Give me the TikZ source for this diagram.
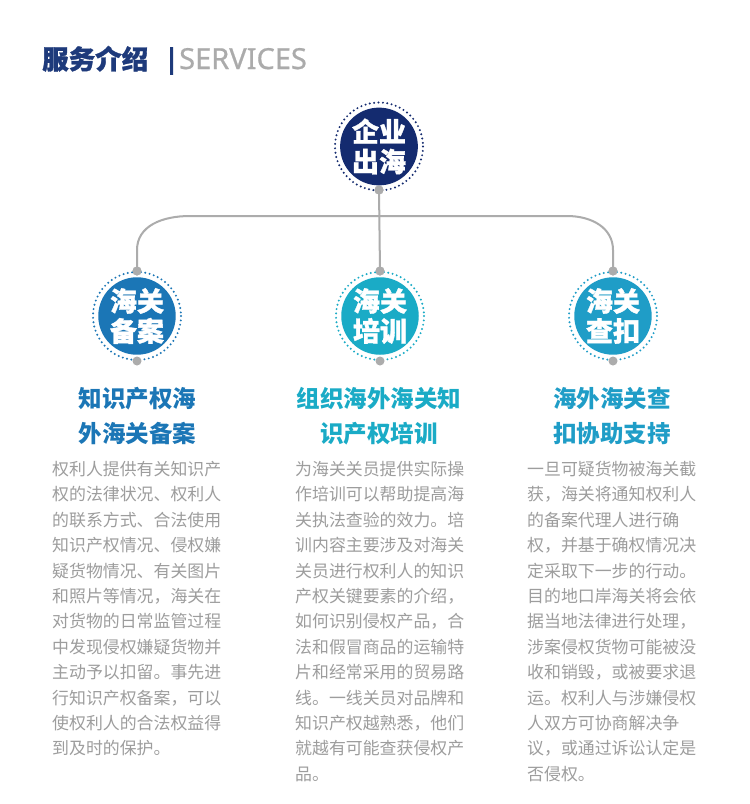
\documentclass[tikz,border=0pt]{standalone}
\usepackage{fontspec}
\newfontfamily\cjk{Noto Sans CJK SC}
\newfontfamily\cjkheavy[BoldFeatures={FakeBold=1.2}]{Noto Sans CJK SC}
\newfontfamily\latinsans[FakeBold=0.6]{Noto Sans}
\newfontfamily\barfont[FakeBold=3]{Noto Sans}
\definecolor{navy}{HTML}{142B6F}
\definecolor{titlenavy}{HTML}{1E3A7B}
\definecolor{cA}{HTML}{1B76B6}
\definecolor{cB}{HTML}{1AABC6}
\definecolor{cC}{HTML}{1F9DC7}
\definecolor{bodygray}{HTML}{9D9D9D}
\definecolor{servgray}{HTML}{ABABAB}
\definecolor{linegray}{HTML}{ACACAC}
\tikzset{
  bigcirc/.style={circle, minimum size=75pt, inner sep=0pt, text=white, align=center,
    font=\cjkheavy\bfseries\fontsize{27}{30}\selectfont},
  ring/.style={line width=2.2pt, dash pattern=on 0pt off 4.4pt, line cap=round},
  gdot/.style={circle, fill=linegray, minimum size=9pt, inner sep=0pt},
  conn/.style={draw=linegray, line width=2pt},
  headtext/.style={anchor=base, inner sep=0pt, font=\cjk\bfseries\fontsize{23.5}{28}\selectfont},
  bodytext/.style={anchor=base west, inner sep=0pt, text=bodygray, font=\cjk\fontsize{16.9}{20}\selectfont},
}
\begin{document}
\begin{tikzpicture}[x=1pt,y=-1pt]
\fill[white] (0,0) rectangle (750,804);
\useasboundingbox (0,0) rectangle (750,804);

% title
\node[anchor=base west, inner sep=0pt, text=titlenavy, font=\cjkheavy\bfseries\fontsize{26.5}{30}\selectfont] (t1) at (42,69) {服务介绍};
\node[anchor=base west, inner sep=0pt, text=titlenavy, font=\barfont\fontsize{27}{30}\selectfont] (t2) at (164,68) {|};
\node[anchor=base west, inner sep=0pt, text=servgray, font=\latinsans\fontsize{29}{30}\selectfont] (t3) at (179,69) {SERVICES};

% dots (positions)
\node[gdot] (d0) at (379,190) {};
\node[gdot] (d1) at (137,271) {};
\node[gdot] (d2) at (380,271) {};
\node[gdot] (d3) at (613,271) {};
\coordinate (hl) at (190,216);
\coordinate (hr) at (567,216);

% connectors
\draw[conn] (d0.center) -- (d2.center);
\draw[conn] (d1.center) -- (137,250) .. controls (137,226) and (162,216) .. (hl) -- (hr)
   .. controls (592,216) and (613,228) .. (613,250) -- (d3.center);

% circles
\node[bigcirc, fill=navy] (c0) at (379,146.5) {企业\\出海};
\draw[ring, navy] (c0.center) circle (44);
\node[bigcirc, fill=cA] (c1) at (137,316) {海关\\备案};
\draw[ring, cA] (c1.center) circle (44);
\node[bigcirc, fill=cB] (c2) at (380,316) {海关\\培训};
\draw[ring, cB] (c2.center) circle (44);
\node[bigcirc, fill=cC] (c3) at (613,316) {海关\\查扣};
\draw[ring, cC] (c3.center) circle (44);

% dots on top
\node[gdot] at (d0) {};
\node[gdot] at (d1) {};
\node[gdot] at (d2) {};
\node[gdot] at (d3) {};
\node[gdot] (d1b) at (137,361) {};
\node[gdot] (d2b) at (380,361) {};
\node[gdot] (d3b) at (613,361) {};

% headings
\node[headtext, text=cA] (h1a) at (137.5,407) {知识产权海};
\node[headtext, text=cA] (h1b) at (137.5,442) {外海关备案};
\node[headtext, text=cB] (h2a) at (379,407) {组织海外海关知};
\node[headtext, text=cB] (h2b) at (379,442) {识产权培训};
\node[headtext, text=cC] (h3a) at (612,407) {海外海关查};
\node[headtext, text=cC] (h3b) at (612,442) {扣协助支持};

% body texts
\foreach \t [count=\i] in {权利人提供有关知识产,权的法律状况、权利人,的联系方式、合法使用,知识产权情况、侵权嫌,疑货物情况、有关图片,和照片等情况，海关在,对货物的日常监管过程,中发现侵权嫌疑货物并,主动予以扣留。事先进,行知识产权备案，可以,使权利人的合法权益得,到及时的保护。}
  \node[bodytext] (a\i) at (52,475.5+25.4*\i-25.4) {\t};
\foreach \t [count=\i] in {为海关关员提供实际操,作培训可以帮助提高海,关执法查验的效力。培,训内容主要涉及对海关,关员进行权利人的知识,产权关键要素的介绍，,如何识别侵权产品，合,法和假冒商品的运输特,片和经常采用的贸易路,线。一线关员对品牌和,知识产权越熟悉，他们,就越有可能查获侵权产,品。}
  \node[bodytext] (b\i) at (295,475.5+25.4*\i-25.4) {\t};
\foreach \t [count=\i] in {一旦可疑货物被海关截,获，海关将通知权利人,的备案代理人进行确,权，并基于确权情况决,定采取下一步的行动。,目的地口岸海关将会依,据当地法律进行处理，,涉案侵权货物可能被没,收和销毁，或被要求退,运。权利人与涉嫌侵权,人双方可协商解决争,议，或通过诉讼认定是,否侵权。}
  \node[bodytext] (r\i) at (527,475.5+25.4*\i-25.4) {\t};
\end{tikzpicture}
\end{document}
